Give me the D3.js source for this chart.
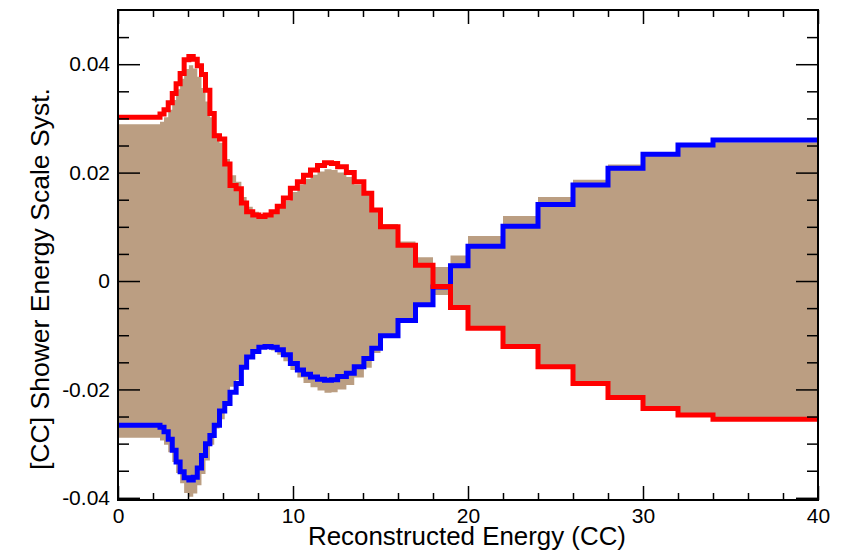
<!DOCTYPE html>
<html>
<head>
<meta charset="utf-8">
<script src="https://cdn.jsdelivr.net/npm/d3@7"></script>
<style>
  html, body { margin: 0; padding: 0; background: #fff; }
  svg { display: block; }
  text { font-family: "Liberation Sans", Arial, Helvetica, sans-serif; fill: #000; }
</style>
</head>
<body>
<svg id="chart" width="841" height="550"></svg>
<script>
// ---- data (bin edges in reconstructed energy, per-bin values) ----
const binEdges = [0, 2.4, 2.63, 2.87, 3.1, 3.32, 3.55, 3.78, 4.05, 4.3,
  4.53, 4.77, 5.0, 5.25, 5.5, 5.8, 6.1, 6.4, 6.75, 7.05,
  7.35, 7.7, 8.05, 8.4, 8.75, 9.1, 9.45, 9.85, 10.25, 10.6,
  11.0, 11.4, 11.8, 12.2, 12.55, 13.05, 13.5, 14.05, 14.5, 15,
  16, 17, 18, 19, 20, 22, 24, 26, 28, 30, 32, 34, 40];

const redShift = [0.0302, 0.0308, 0.0316, 0.0329, 0.0346, 0.0364, 0.0383, 0.0408, 0.0414, 0.0409,
  0.0397, 0.0381, 0.0352, 0.0309, 0.0268, 0.0262, 0.0216, 0.0176, 0.0170, 0.0144,
  0.0128, 0.0122, 0.0119, 0.0122, 0.0128, 0.0138, 0.0153, 0.0171, 0.0183, 0.0195,
  0.0205, 0.0213, 0.0218, 0.0217, 0.0211, 0.0200, 0.0183, 0.0162, 0.0131, 0.0100,
  0.0066, 0.0029, -0.0010, -0.0049, -0.0087, -0.0121, -0.0158, -0.0189, -0.0215, -0.0235,
  -0.0247, -0.0255];

const blueShift = [-0.0266, -0.0270, -0.0278, -0.0292, -0.0312, -0.0334, -0.0352, -0.0363, -0.0367, -0.0362,
  -0.0345, -0.0322, -0.0300, -0.0285, -0.0266, -0.0240, -0.0226, -0.0205, -0.0189, -0.0159,
  -0.0140, -0.0130, -0.0122, -0.0121, -0.0122, -0.0127, -0.0136, -0.0152, -0.0164, -0.0172,
  -0.0177, -0.0181, -0.0183, -0.0182, -0.0176, -0.0170, -0.0158, -0.0143, -0.0124, -0.0101,
  -0.0073, -0.0044, -0.0011, 0.0028, 0.0064, 0.0101, 0.0141, 0.0177, 0.0208, 0.0234,
  0.0251, 0.0260];

const bandHalfWidth = [0.0289, 0.0294, 0.0302, 0.0316, 0.0334, 0.0354, 0.0373, 0.0391, 0.0398, 0.0392,
  0.0377, 0.0356, 0.0331, 0.0302, 0.0272, 0.0255, 0.0225, 0.0195, 0.0183, 0.0155,
  0.0137, 0.0128, 0.0123, 0.0124, 0.0128, 0.0136, 0.0148, 0.0164, 0.0178, 0.0188,
  0.0196, 0.0202, 0.0206, 0.0205, 0.0200, 0.0192, 0.0178, 0.0160, 0.0133, 0.0105,
  0.0073, 0.0044, 0.0026, 0.0047, 0.0083, 0.0120, 0.0155, 0.0187, 0.0215, 0.0236,
  0.0250, 0.0256];

const xMajorTicks = [0, 10, 20, 30, 40];
const xMinorTicks = [2, 4, 6, 8, 12, 14, 16, 18, 22, 24, 26, 28, 32, 34, 36, 38];
const yMajorTicks = [-0.04, -0.02, 0, 0.02, 0.04];
const yMinorTicks = [-0.035, -0.03, -0.025, -0.015, -0.01, -0.005, 0.005, 0.01, 0.015, 0.025, 0.03, 0.035, 0.045];
const yTickLabels = ["-0.04", "-0.02", "0", "0.02", "0.04"];
const xTitle = "Reconstructed Energy (CC)";
const yTitle = "[CC] Shower Energy Scale Syst.";

// ---- layout ----
const L = 118, R = 818, T = 10, B = 500;
const svg = d3.select("#chart");

const x = d3.scaleLinear().domain([0, 40]).range([L, R]);
const y = d3.scaleLinear().domain([-0.0404, 0.05]).range([B, T]);

svg.append("defs").append("clipPath").attr("id", "plotclip")
  .append("rect").attr("x", L).attr("y", T).attr("width", R - L).attr("height", B - T);

function stepPoints(vals) {
  return binEdges.map((e, i) => ({ x: e, v: vals[Math.min(i, vals.length - 1)] }));
}

const g = svg.append("g").attr("clip-path", "url(#plotclip)");

// band
const area = d3.area()
  .x(d => x(d.x))
  .y0(d => y(-d.v))
  .y1(d => y(d.v))
  .curve(d3.curveStepAfter);
g.append("path")
  .datum(stepPoints(bandHalfWidth))
  .attr("d", area)
  .attr("fill", "#bb9e82");

const line = d3.line()
  .x(d => x(d.x))
  .y(d => y(d.v))
  .curve(d3.curveStepAfter);

g.append("path")
  .datum(stepPoints(blueShift))
  .attr("d", line)
  .attr("fill", "none")
  .attr("stroke", "#0000ff")
  .attr("stroke-width", 5)
  .attr("stroke-linejoin", "miter");

g.append("path")
  .datum(stepPoints(redShift))
  .attr("d", line)
  .attr("fill", "none")
  .attr("stroke", "#ff0000")
  .attr("stroke-width", 5)
  .attr("stroke-linejoin", "miter");

// ---- axes (ticks inward on all four sides) ----
function styleAxis(sel) {
  sel.select(".domain").remove();
  sel.selectAll(".tick line").attr("stroke", "#000").attr("stroke-width", 1.5);
  sel.selectAll(".tick text").style("font-size", "21px").attr("fill", "#000");
}

svg.append("g").attr("transform", `translate(0,${B})`)
  .call(d3.axisBottom(x).tickValues(xMajorTicks).tickSizeInner(-14).tickSizeOuter(0).tickPadding(8).tickFormat(d3.format("d")))
  .call(styleAxis);
svg.append("g").attr("transform", `translate(0,${B})`)
  .call(d3.axisBottom(x).tickValues(xMinorTicks).tickSizeInner(-7).tickSizeOuter(0).tickFormat(""))
  .call(styleAxis);
svg.append("g").attr("transform", `translate(0,${T})`)
  .call(d3.axisTop(x).tickValues(xMajorTicks).tickSizeInner(-14).tickSizeOuter(0).tickFormat(""))
  .call(styleAxis);
svg.append("g").attr("transform", `translate(0,${T})`)
  .call(d3.axisTop(x).tickValues(xMinorTicks).tickSizeInner(-7).tickSizeOuter(0).tickFormat(""))
  .call(styleAxis);

svg.append("g").attr("transform", `translate(${L},0)`)
  .call(d3.axisLeft(y).tickValues(yMajorTicks).tickSizeInner(-22).tickSizeOuter(0).tickPadding(8)
    .tickFormat((d, i) => yTickLabels[i]))
  .call(styleAxis);
svg.append("g").attr("transform", `translate(${L},0)`)
  .call(d3.axisLeft(y).tickValues(yMinorTicks).tickSizeInner(-11).tickSizeOuter(0).tickFormat(""))
  .call(styleAxis);
svg.append("g").attr("transform", `translate(${R},0)`)
  .call(d3.axisRight(y).tickValues(yMajorTicks).tickSizeInner(-22).tickSizeOuter(0).tickFormat(""))
  .call(styleAxis);
svg.append("g").attr("transform", `translate(${R},0)`)
  .call(d3.axisRight(y).tickValues(yMinorTicks).tickSizeInner(-11).tickSizeOuter(0).tickFormat(""))
  .call(styleAxis);

// frame
svg.append("rect")
  .attr("x", L).attr("y", T).attr("width", R - L).attr("height", B - T)
  .attr("fill", "none").attr("stroke", "#000").attr("stroke-width", 2);

// titles
svg.append("text")
  .attr("x", 467).attr("y", 545)
  .attr("text-anchor", "middle")
  .attr("textLength", 318)
  .attr("lengthAdjust", "spacingAndGlyphs")
  .style("font-size", "26px")
  .text(xTitle);

svg.append("text")
  .attr("transform", "translate(49,279) rotate(-90)")
  .attr("text-anchor", "middle")
  .attr("textLength", 382)
  .attr("lengthAdjust", "spacingAndGlyphs")
  .style("font-size", "25px")
  .text(yTitle);
</script>
</body>
</html>
